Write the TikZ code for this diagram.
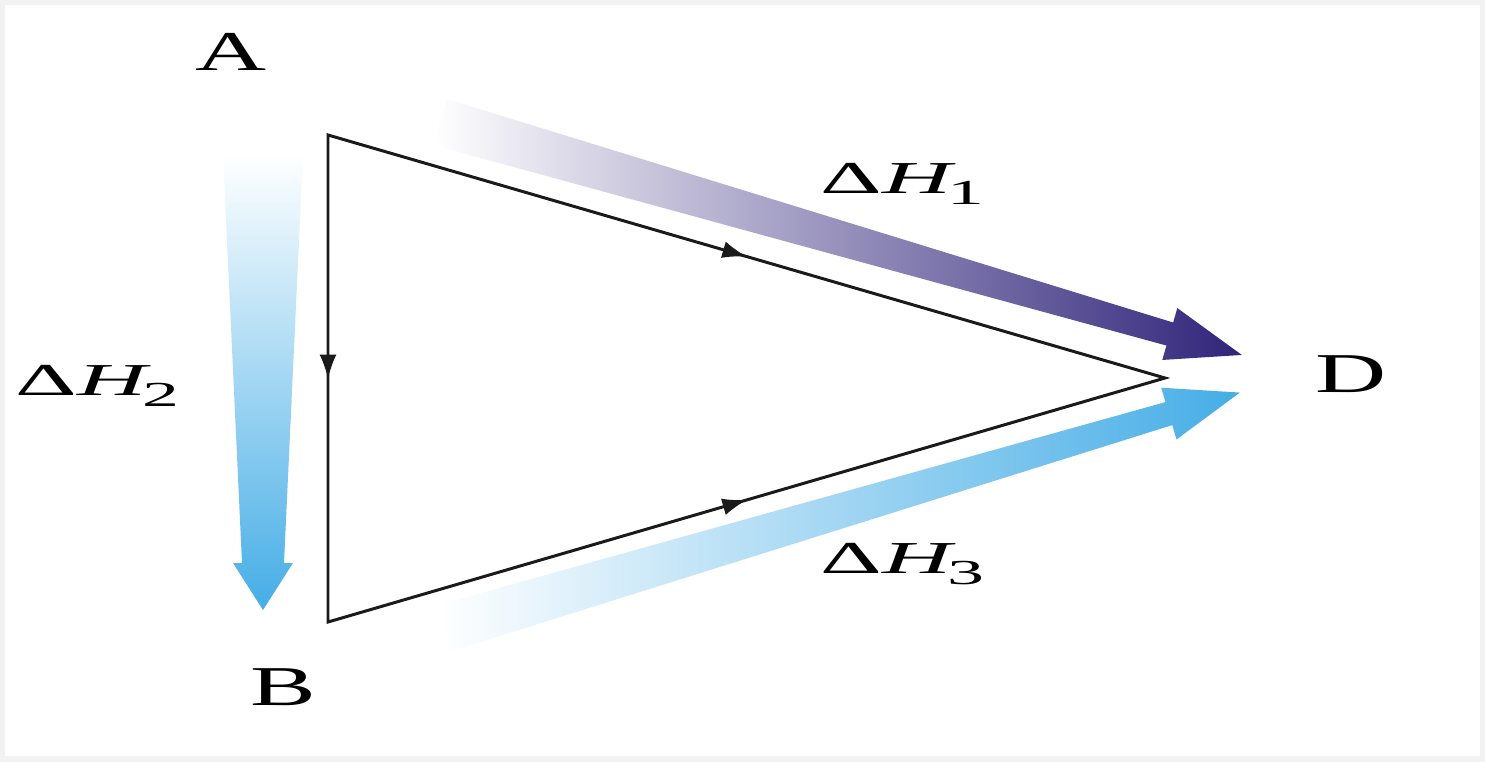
\documentclass[tikz,border=0pt]{standalone}
\usepackage{fontspec}
\setmainfont{Liberation Serif}
\usetikzlibrary{arrows.meta,decorations.markings}
\definecolor{InkBlack}{HTML}{1A1A1A}
\definecolor{PurpleDeep}{HTML}{30247A}
\definecolor{PurpleMid}{HTML}{9486D6}
\definecolor{SkyDeep}{HTML}{45ADE6}
\definecolor{SkyMid}{HTML}{A5D8F5}
\definecolor{FrameGray}{HTML}{F2F2F2}
\tikzset{
  tri/.style={draw=InkBlack, line width=0.85pt, line join=miter},
  midarrow/.style={postaction={decorate}, decoration={markings,
      mark=at position 0.5 with {\arrow[InkBlack]{Latex[length=2.4mm,width=1.7mm]}}}},
  letter/.style={inner sep=0pt, anchor=base west, font=\fontsize{16}{19}\selectfont},
  dhlabel/.style={inner sep=0pt, anchor=base west, font=\fontsize{13}{16}\selectfont},
  purpleband/.style={left color=white, middle color=PurpleMid, right color=PurpleDeep},
  blueband/.style={left color=white, middle color=SkyMid, right color=SkyDeep},
  blueshaft/.style={top color=white, middle color=SkyMid, bottom color=SkyDeep}
}
\newcommand{\dH}[1]{\scalebox{2.1}[1]{Δ\textit{H}\kern-1.2pt\raisebox{-3.4pt}{\fontsize{10}{12}\selectfont #1}}}

\begin{document}
\begin{tikzpicture}[x=0.1mm, y=-0.1mm]
  \useasboundingbox (0,0) rectangle (1485,761);
  \draw[FrameGray, line width=1mm] (0,0) rectangle (1485,761);

  % shaded enthalpy arrows
  \begin{scope}[shift={(440,122)}, rotate=-16.2]
    \shade[purpleband] (0,-24) -- (760,-12) -- (760,-27) -- (835,0)
      -- (760,27) -- (760,12) -- (0,24) -- cycle;
  \end{scope}
  \begin{scope}[shift={(263,155)}, rotate=-90]
    \shade[blueshaft] (0,-40) -- (408,-21) -- (408,-30) -- (455,0)
      -- (408,30) -- (408,21) -- (0,40) -- cycle;
  \end{scope}
  \begin{scope}[shift={(445,628)}, rotate=16.5]
    \shade[blueband] (0,-24) -- (755,-12) -- (755,-27) -- (829,0)
      -- (755,27) -- (755,12) -- (0,24) -- cycle;
  \end{scope}

  % triangle
  \coordinate (A) at (328,135);
  \coordinate (B) at (328,622);
  \coordinate (D) at (1165,378);
  \draw[tri] (A) -- (D) -- (B) -- cycle;
  \path[midarrow] (A) -- (D);
  \path[midarrow] (A) -- (B);
  \path[midarrow] (B) -- (D);

  % labels
  \node[letter] (la) at (195,70) {\scalebox{1.75}[1]{A}};
  \node[letter] (lb) at (250,705) {\scalebox{1.75}[1]{B}};
  \node[letter] (ld) at (1315,392) {\scalebox{1.75}[1]{D}};
  \node[dhlabel] (h1) at (820,193) {\dH{1}};
  \node[dhlabel] (h2) at (15,395) {\dH{2}};
  \node[dhlabel] (h3) at (820,573) {\dH{3}};
\end{tikzpicture}
\end{document}
